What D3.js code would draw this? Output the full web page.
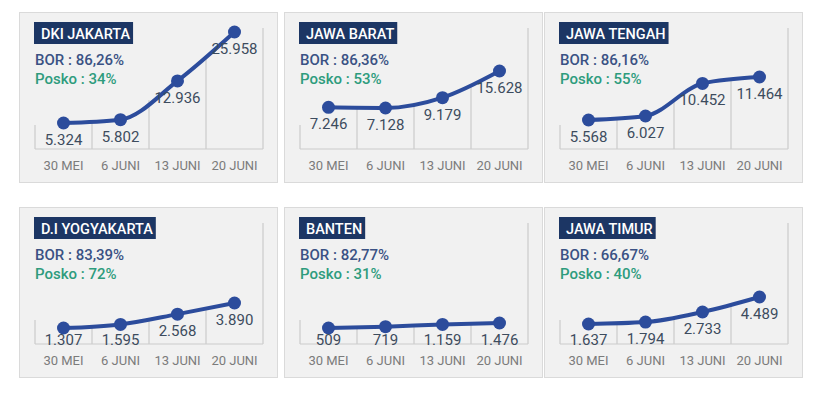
<!DOCTYPE html>
<html>
<head>
<meta charset="utf-8">
<script src="https://cdn.jsdelivr.net/npm/d3@7"></script>
<style>
  html, body { margin: 0; padding: 0; background: #fff; }
  svg { display: block; font-family: Roboto, "Noto Sans", sans-serif; }
</style>
</head>
<body>
<div id="chart"></div>
<script>
// data
const dates = ["30 MEI", "6 JUNI", "13 JUNI", "20 JUNI"];
const provinces = ["DKI JAKARTA", "JAWA BARAT", "JAWA TENGAH", "D.I YOGYAKARTA", "BANTEN", "JAWA TIMUR"];
const bor = [86.26, 86.36, 86.16, 83.39, 82.77, 66.67];
const posko = [34, 53, 55, 72, 31, 40];
const dkiJakarta = [5324, 5802, 12936, 25958];
const jawaBarat = [7246, 7128, 9179, 15628];
const jawaTengah = [5568, 6027, 10452, 11464];
const yogyakarta = [1307, 1595, 2568, 3890];
const banten = [509, 719, 1159, 1476];
const jawaTimur = [1637, 1794, 2733, 4489];
const series = [dkiJakarta, jawaBarat, jawaTengah, yogyakarta, banten, jawaTimur];

// layout
const width = 828, height = 398;
const panelLefts = [19, 284, 544];
const panelTops = [12, 207];
const panelW = 258, panelH = 170;
const plotLeft = 16, plotRight = 244, plotTop = 16, baseY = 137;
// how high (px above the baseline) each panel puts its lowest and highest point
const spans = [[26, 117], [41, 78], [29, 72], [16, 41], [16, 21], [20, 47]];

const blue = "#2c4c9c";
const locale = d3.formatLocale({ decimal: ",", thousands: ".", grouping: [3], currency: ["", ""] });
const fmtInt = locale.format(",d");
const fmtPct = locale.format(".2f");

const svg = d3.select("#chart").append("svg")
  .attr("width", width)
  .attr("height", height);

provinces.forEach((name, i) => {
  const vals = series[i];
  const g = svg.append("g")
    .attr("transform", `translate(${panelLefts[i % 3]},${panelTops[Math.floor(i / 3)]})`);

  g.append("rect")
    .attr("x", 0.5).attr("y", 0.5)
    .attr("width", panelW).attr("height", panelH)
    .attr("fill", "#f1f1f1")
    .attr("stroke", "#dadada");

  const x = d3.scaleBand().domain(dates).range([plotLeft, plotRight]);
  const y = d3.scaleSqrt()
    .domain(d3.extent(vals))
    .range([baseY - spans[i][0], baseY - spans[i][1]]);

  const pts = vals.map((v, j) => [x(dates[j]) + x.bandwidth() / 2, y(v)]);

  // grid: right edge, left edge, dividers up to the curve
  const grid = g.append("g")
    .attr("stroke", "#cbcbcb")
    .attr("stroke-width", 1.2);
  grid.append("line")
    .attr("x1", plotRight).attr("x2", plotRight)
    .attr("y1", plotTop).attr("y2", baseY);
  grid.append("line")
    .attr("x1", plotLeft).attr("x2", plotLeft)
    .attr("y1", baseY - 24).attr("y2", baseY);
  d3.range(1, dates.length).forEach(j => {
    const xx = x(dates[j]);
    grid.append("line")
      .attr("x1", xx).attr("x2", xx)
      .attr("y1", (pts[j - 1][1] + pts[j][1]) / 2).attr("y2", baseY);
  });
  grid.append("line")
    .attr("x1", plotLeft).attr("x2", plotRight)
    .attr("y1", baseY).attr("y2", baseY);

  // x labels
  g.selectAll(".xl")
    .data(dates)
    .join("text")
    .attr("class", "xl")
    .attr("x", d => x(d) + x.bandwidth() / 2)
    .attr("y", baseY + 21)
    .attr("text-anchor", "middle")
    .attr("fill", "#7b7b7b")
    .style("font-size", "13px")
    .text(d => d);

  // line + points
  const line = d3.line().curve(d3.curveMonotoneX);
  g.append("path")
    .attr("d", line(pts))
    .attr("fill", "none")
    .attr("stroke", blue)
    .attr("stroke-width", 4)
    .attr("stroke-linecap", "round");

  g.selectAll("circle")
    .data(pts)
    .join("circle")
    .attr("cx", d => d[0])
    .attr("cy", d => d[1])
    .attr("r", 6.5)
    .attr("fill", blue);

  // value labels sit under the points, but never below the baseline
  g.selectAll(".vl")
    .data(vals)
    .join("text")
    .attr("class", "vl")
    .attr("x", (d, j) => pts[j][0])
    .attr("y", (d, j) => Math.min(pts[j][1] + 22, baseY + 1))
    .attr("text-anchor", "middle")
    .attr("fill", "#3d4c5e")
    .style("font-size", "15px")
    .text(d => fmtInt(d));

  // title badge
  const title = g.append("text")
    .attr("x", plotLeft + 6)
    .attr("y", 26.5)
    .attr("fill", "#fff")
    .style("font-size", "14.5px")
    .style("font-weight", 500)
    .text(name);
  const tw = title.node().getComputedTextLength();
  g.insert("rect", "text")
    .attr("x", plotLeft - 1)
    .attr("y", 10)
    .attr("width", tw + 10)
    .attr("height", 22)
    .attr("fill", "#1c3664");
  title.raise();

  g.append("text")
    .attr("x", plotLeft)
    .attr("y", 53)
    .attr("fill", "#3a5284")
    .style("font-size", "15px")
    .style("font-weight", 500)
    .text(`BOR : ${fmtPct(bor[i])}%`);

  g.append("text")
    .attr("x", plotLeft)
    .attr("y", 72)
    .attr("fill", "#2e9c7d")
    .style("font-size", "15px")
    .style("font-weight", 500)
    .text(`Posko : ${posko[i]}%`);
});
</script>
</body>
</html>
